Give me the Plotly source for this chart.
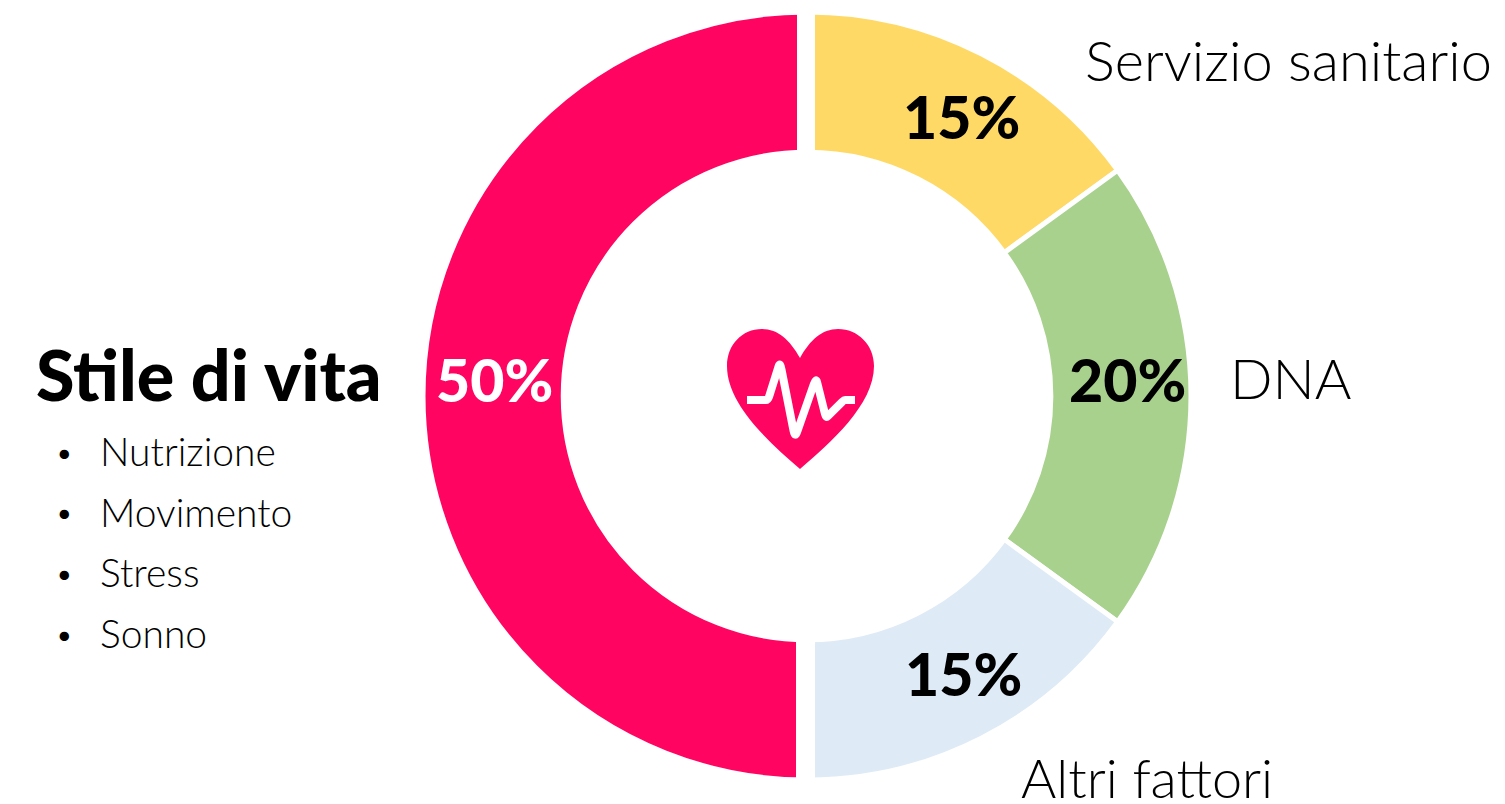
import plotly.graph_objects as go

labels = ["Servizio sanitario", "DNA", "Altri fattori", "Stile di vita"]
values = [15, 20, 15, 50]
colors = ["#FFD966", "#A9D18E", "#DEEAF6", "#FF0561"]
pct_colors = ["#000000", "#000000", "#000000", "#FFFFFF"]
pct_pos = [(962, 119), (1127, 381), (963, 675), (494, 381)]
bullets = ["Nutrizione", "Movimento", "Stress", "Sonno"]
LIGHT = "'Lato Light', Lato, sans-serif"
BLACK = "'Lato Black', Lato, sans-serif"

W, H = 1505, 804
OFF = 8
cx, cy, R = 807, 396, 384
fig = go.Figure(go.Pie(
    labels=labels, values=values, sort=False, direction="clockwise", rotation=0,
    hole=0.635, marker=dict(colors=colors, line=dict(color="white", width=5)),
    textinfo="none", showlegend=False,
    domain=dict(x=[(cx-R-OFF)/W, (cx+R-OFF)/W], y=[1-(cy+R-OFF)/H, 1-(cy-R-OFF)/H]),
))

def txt(s, x, y, size, color="black", anchor="left", family=LIGHT, weight=400):
    fig.add_annotation(text=s, x=(x-OFF)/W, y=1-(y-OFF-2)/H, xref="paper", yref="paper", showarrow=False,
                       xanchor=anchor, yanchor="middle",
                       font=dict(family=family, size=size, color=color, weight=weight))

for v, c, (x, y) in zip(values, pct_colors, pct_pos):
    txt(f"{v}%", x, y, 59, color=c, anchor="center", family=BLACK, weight=900)

txt(labels[0], 1083, 61, 56)
txt(labels[1], 1228, 380, 56)
txt(labels[2], 1019, 779, 54)
txt(labels[3], 34, 376, 70, family=BLACK, weight=900)
for i, b in enumerate(bullets):
    y = 453 + i*60.7
    txt("•", 53, y, 32)
    txt(b, 98, y, 39)

def P(x, y):
    return f"{(x-OFF)/W:.5f} {1-(y-OFF)/H:.5f}"

heart = (f"M {P(800,469)} C {P(770,443)} {P(727,405)} {P(727,366)} "
         f"C {P(727,345)} {P(742,329)} {P(762,329)} C {P(778,329)} {P(790,340)} {P(800,358)} "
         f"C {P(810,340)} {P(822,329)} {P(838,329)} C {P(858,329)} {P(874,345)} {P(874,366)} "
         f"C {P(874,405)} {P(830,443)} {P(800,469)} Z")

pulse_pts = [(747,400),(768,400),(780,362),(795,438),(816,378),(826,418),(844,400),(855,400)]
def rounded(pts, t=0.1):
    d = "M " + P(*pts[0])
    for a, b, c in zip(pts, pts[1:], pts[2:]):
        p = (b[0]+(a[0]-b[0])*t, b[1]+(a[1]-b[1])*t)
        q = (b[0]+(c[0]-b[0])*t, b[1]+(c[1]-b[1])*t)
        d += f" L {P(*p)} Q {P(*b)} {P(*q)}"
    return d + " L " + P(*pts[-1])

def rect(x0, y0, x1, y1):
    return dict(type="rect", x0=(x0-OFF)/W, x1=(x1-OFF)/W, y0=1-(y1-OFF)/H, y1=1-(y0-OFF)/H,
                xref="paper", yref="paper", fillcolor="white", line=dict(width=0))

fig.update_layout(
    width=W, height=H, autosize=False, margin=dict(l=0, r=0, t=0, b=0),
    paper_bgcolor="white", plot_bgcolor="white",
    shapes=[
        rect(797, 5, 815, 165), rect(796, 625, 815, 785),
        dict(type="path", path=heart, xref="paper", yref="paper", fillcolor="#FF0561", line=dict(width=0)),
        dict(type="path", path=rounded(pulse_pts), xref="paper", yref="paper", line=dict(color="white", width=8)),
    ],
)
fig.write_html("out.html")
